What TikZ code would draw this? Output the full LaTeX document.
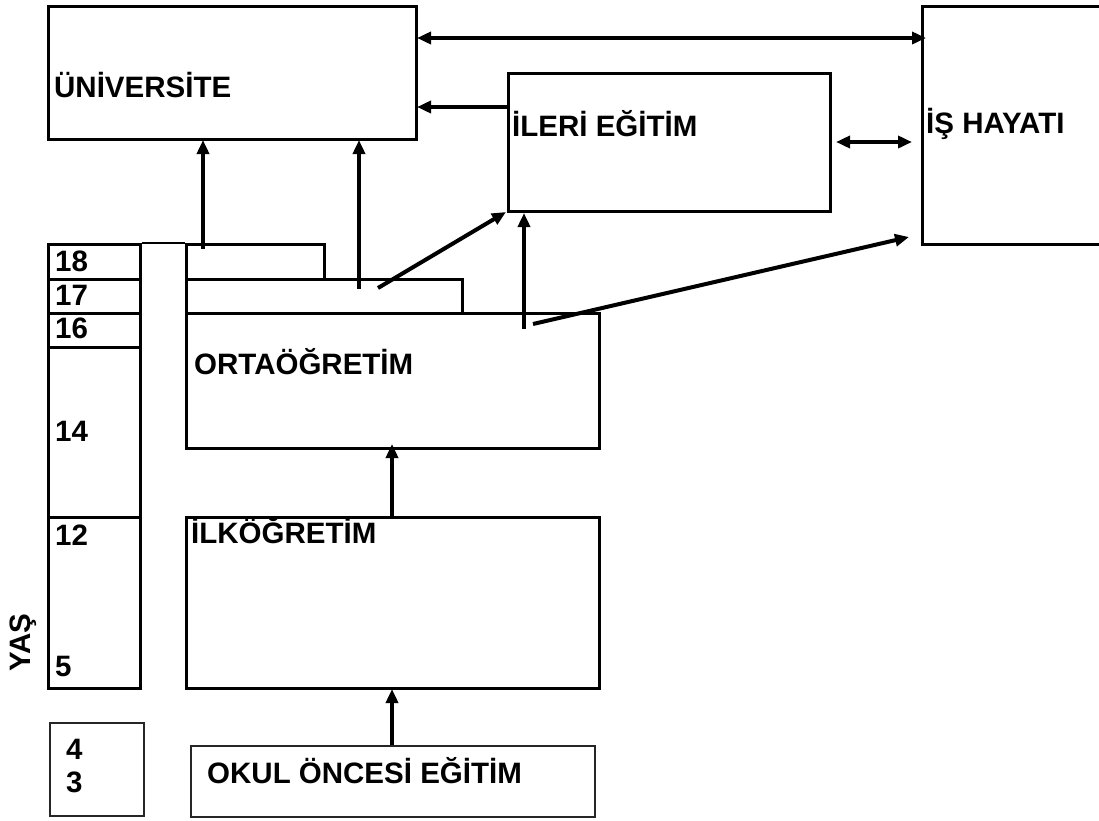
\documentclass[tikz,border=0pt]{standalone}
\usepackage{fontspec}
\setmainfont{Liberation Sans}
\usetikzlibrary{arrows.meta}
\begin{document}
\begin{tikzpicture}[x=1pt,y=-1pt,
  box/.style={draw, line width=2.7pt, inner sep=0pt, anchor=north west},
  lightbox/.style={box, line width=2pt, draw=black!85},
  lbl/.style={anchor=base west, inner sep=0pt, font=\fontsize{29.5}{31}\selectfont\bfseries},
  arr/.style={line width=4pt, -{Triangle[length=14pt,width=12pt]}},
  darr/.style={line width=4pt, {Triangle[length=14pt,width=12pt]}-{Triangle[length=14pt,width=12pt]}},
  joinline/.style={line width=2.7pt}]
\fill[white] (0,0) rectangle (1099,820);
\useasboundingbox (0,0) rectangle (1099,820);
\clip (0,0) rectangle (1099,820);

% main boxes
\node[box, minimum width=368pt, minimum height=133pt] (univ) at (47,5) {};
\node[box, minimum width=322pt, minimum height=138pt] (ileri) at (507,72) {};
\node[box, minimum width=190pt, minimum height=238pt] (is) at (921,5) {};

% age column
\node[box, minimum width=92pt, minimum height=35pt] (a18) at (47,243) {};
\node[box, minimum width=92pt, minimum height=34pt] (a17) at (47,278) {};
\node[box, minimum width=92pt, minimum height=34pt] (a16) at (47,312) {};
\node[box, minimum width=92pt, minimum height=170pt] (a14) at (47,346) {};
\node[box, minimum width=92pt, minimum height=171pt] (a12) at (47,516) {};
\node[lightbox, minimum width=94pt, minimum height=93pt] (a43) at (49,722) {};

% school boxes
\node[box, minimum width=138pt, minimum height=35pt] (s18) at (185,243) {};
\node[box, minimum width=276pt, minimum height=34pt] (s17) at (185,278) {};
\node[box, minimum width=413pt, minimum height=135pt] (orta) at (185,312) {};
\node[box, minimum width=413pt, minimum height=171pt] (ilk) at (185,516) {};
\node[lightbox, minimum width=404pt, minimum height=71pt] (okul) at (190,745) {};

\draw[joinline] (a18.north east) -- (s18.north west);

% labels
\node[lbl] (tuniv) at (54,97) {ÜNİVERSİTE};
\node[lbl] (tileri) at (512,136) {İLERİ EĞİTİM};
\node[lbl] (tis) at (926,133) {İŞ HAYATI};
\node[lbl] (torta) at (194,374) {ORTAÖĞRETİM};
\node[lbl] (tilk) at (191,543) {İLKÖĞRETİM};
\node[lbl] (tokul) at (207,783) {OKUL ÖNCESİ EĞİTİM};
\node[lbl] (n18) at (55,271) {18};
\node[lbl] (n17) at (55,305) {17};
\node[lbl] (n16) at (55,338) {16};
\node[lbl] (n14) at (55,441) {14};
\node[lbl] (n12) at (55,545) {12};
\node[lbl] (n5) at (55,676) {5};
\node[lbl] (n4) at (66,759) {4};
\node[lbl] (n3) at (66,792) {3};
\node[inner sep=0pt, rotate=90, font=\fontsize{29.5}{31}\selectfont\bfseries] (yas) at (23,643) {YAŞ};

% arrow end points
\coordinate (p1s) at (203,249);
\coordinate (p1e) at (203,140);
\coordinate (p2s) at (359,289);
\coordinate (p2e) at (359,140);
\coordinate (p3s) at (378,288);
\coordinate (p3e) at (506,212);
\coordinate (p4s) at (524,329);
\coordinate (p4e) at (524,213);
\coordinate (p5s) at (533,324);
\coordinate (p5e) at (909,237);
\coordinate (p6e) at (392,444);
\coordinate (p7e) at (392,689);
\coordinate (p8s) at (836,142);
\coordinate (p8e) at (912,142);
\coordinate (p9s) at (417,38);
\coordinate (p9e) at (926,38);
\coordinate (p10e) at (417,107);

% connectors
\draw[darr] (p9s) -- (p9e);
\draw[arr] (ileri.west |- p10e) -- (p10e);
\draw[darr] (p8s) -- (p8e);
\draw[arr] (p1s) -- (p1e);
\draw[arr] (p2s) -- (p2e);
\draw[arr] (p3s) -- (p3e);
\draw[arr] (p4s) -- (p4e);
\draw[arr] (p5s) -- (p5e);
\draw[arr] (ilk.north -| p6e) -- (p6e);
\draw[arr] (okul.north -| p7e) -- (p7e);
\end{tikzpicture}
\end{document}
